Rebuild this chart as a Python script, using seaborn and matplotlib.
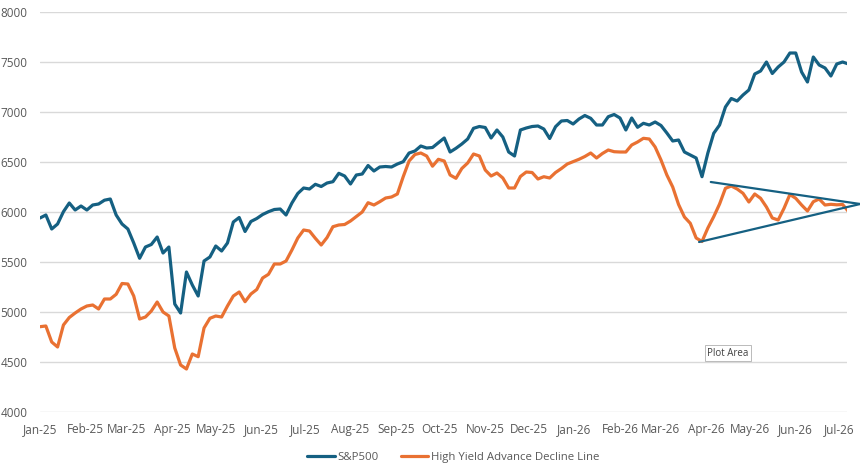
import matplotlib as mpl
import matplotlib.pyplot as plt
import matplotlib.dates as mdates
from matplotlib.lines import Line2D
import numpy as np
import pandas as pd
import seaborn as sns

# ------------------------------------------------------------------------------ #
# data (one value every 4 days from Jan 1 2025)
# ------------------------------------------------------------------------------ #

start_date = "2025-01-01"
step = "4D"

sp500 = [
    5940, 5970, 5830, 5880, 6003, 6090, 6020, 6060, 6020, 6070,
    6080, 6118, 6130, 5970, 5880, 5830, 5690, 5537, 5650, 5675,
    5750, 5590, 5650, 5080, 4990, 5400, 5270, 5160, 5510, 5550,
    5660, 5610, 5690, 5900, 5945, 5805, 5905, 5935, 5975, 6003,
    6025, 6030, 5970, 6090, 6185, 6240, 6230, 6277, 6255, 6290,
    6303, 6387, 6360, 6280, 6370, 6380, 6465, 6410, 6450, 6455,
    6450, 6480, 6503, 6590, 6610, 6660, 6640, 6645, 6693, 6740,
    6600, 6637, 6680, 6730, 6837, 6855, 6845, 6740, 6820, 6750,
    6600, 6560, 6820, 6840, 6855, 6860, 6830, 6735, 6853, 6910,
    6915, 6880, 6930, 6965, 6937, 6870, 6870, 6953, 6975, 6940,
    6820, 6940, 6847, 6887, 6870, 6900, 6865, 6790, 6710, 6720,
    6600, 6570, 6540, 6353, 6590, 6787, 6870, 7050, 7135, 7110,
    7170, 7220, 7380, 7410, 7500, 7385, 7450, 7500, 7590, 7590,
    7400, 7300, 7550, 7470, 7440, 7360, 7480, 7500, 7480,
]

hy_ad_line = [
    4853, 4860, 4700, 4650, 4870, 4945, 4990, 5030, 5060, 5070,
    5030, 5130, 5130, 5177, 5285, 5280, 5160, 4930, 4950, 5010,
    5100, 5000, 4960, 4640, 4470, 4430, 4580, 4553, 4840, 4937,
    4960, 4950, 5060, 5160, 5200, 5103, 5180, 5225, 5340, 5377,
    5480, 5480, 5510, 5620, 5740, 5820, 5810, 5737, 5670, 5745,
    5853, 5870, 5875, 5910, 5955, 6000, 6093, 6070, 6103, 6140,
    6150, 6180, 6353, 6510, 6575, 6590, 6560, 6458, 6527, 6510,
    6370, 6337, 6435, 6490, 6580, 6560, 6420, 6360, 6390, 6340,
    6240, 6240, 6355, 6400, 6395, 6330, 6353, 6340, 6395, 6435,
    6480, 6503, 6527, 6555, 6590, 6540, 6585, 6620, 6603, 6600,
    6600, 6670, 6700, 6737, 6730, 6650, 6520, 6370, 6250, 6075,
    5950, 5887, 5740, 5705, 5840, 5953, 6080, 6237, 6260, 6230,
    6187, 6100, 6180, 6137, 6050, 5940, 5920, 6037, 6175, 6137,
    6070, 6010, 6103, 6130, 6070, 6077, 6072, 6075, 6005,
]

# converging trend lines drawn on the high yield A/D line
upper_trend_dates = ["2026-04-04", "2026-07-15"]
upper_trend_vals = [6300, 6080]
lower_trend_dates = ["2026-03-27", "2026-07-15"]
lower_trend_vals = [5700, 6080]

series_names = ["S&P500", "High Yield Advance Decline Line"]
y_ticks = [4000, 4500, 5000, 5500, 6000, 6500, 7000, 7500, 8000]

c_teal = "#156082"
c_orange = "#E97132"
c_text = "#595959"

# ------------------------------------------------------------------------------ #
# plot
# ------------------------------------------------------------------------------ #

dates = pd.date_range(start_date, periods=len(sp500), freq=step)
df = pd.concat(
    [
        pd.DataFrame({"date": dates, "value": sp500, "series": series_names[0]}),
        pd.DataFrame({"date": dates, "value": hy_ad_line, "series": series_names[1]}),
    ]
)

sns.set_style("white")
plt.rcParams["font.family"] = ["Open Sans", "DejaVu Sans"]

fig = plt.figure(figsize=(8.6, 4.69), dpi=100)
ax = fig.add_axes([40 / 860, 1 - 412 / 469, 807 / 860, 400 / 469])

sns.lineplot(
    data=df,
    x="date",
    y="value",
    hue="series",
    palette=[c_teal, c_orange],
    linewidth=2.3,
    ax=ax,
    legend=False,
)

for d, v in [(upper_trend_dates, upper_trend_vals), (lower_trend_dates, lower_trend_vals)]:
    ax.plot(pd.to_datetime(d), v, color=c_teal, lw=1.6, clip_on=False, zorder=3)

ax.set_ylim(4000, 8000)
ax.set_yticks(y_ticks)
ax.set_xlim(pd.Timestamp("2025-01-01"), pd.Timestamp("2026-07-06"))
ax.xaxis.set_major_locator(mdates.MonthLocator())
ax.xaxis.set_major_formatter(mdates.DateFormatter("%b-%y"))
ax.set_xlabel("")
ax.set_ylabel("")

ax.grid(axis="y", color="#d9d9d9", lw=1)
ax.grid(axis="x", visible=False)
for s in ax.spines.values():
    s.set_visible(False)
ax.tick_params(axis="y", length=0, pad=9, labelsize=8.5, labelcolor=c_text)
ax.tick_params(axis="x", length=0, pad=8, labelsize=8.5, labelcolor=c_text)

handles = [Line2D([], [], color=c_teal, lw=2.3), Line2D([], [], color=c_orange, lw=2.3)]
fig.legend(
    handles,
    series_names,
    loc="center",
    bbox_to_anchor=(0.527, 1 - 457 / 469),
    ncol=2,
    frameon=False,
    fontsize=8.2,
    labelcolor=c_text,
    handlelength=2.4,
    handletextpad=0.2,
    columnspacing=2.0,
)

# leftover excel hover tooltip
ax.text(
    0.8525, 0.1475, "Plot Area",
    transform=ax.transAxes, ha="center", va="center",
    fontsize=7, color="#404040",
    bbox=dict(boxstyle="square,pad=0.25", fc="white", ec="#b0b0b0", lw=0.6),
)

fig.savefig("out.png", dpi=100)
